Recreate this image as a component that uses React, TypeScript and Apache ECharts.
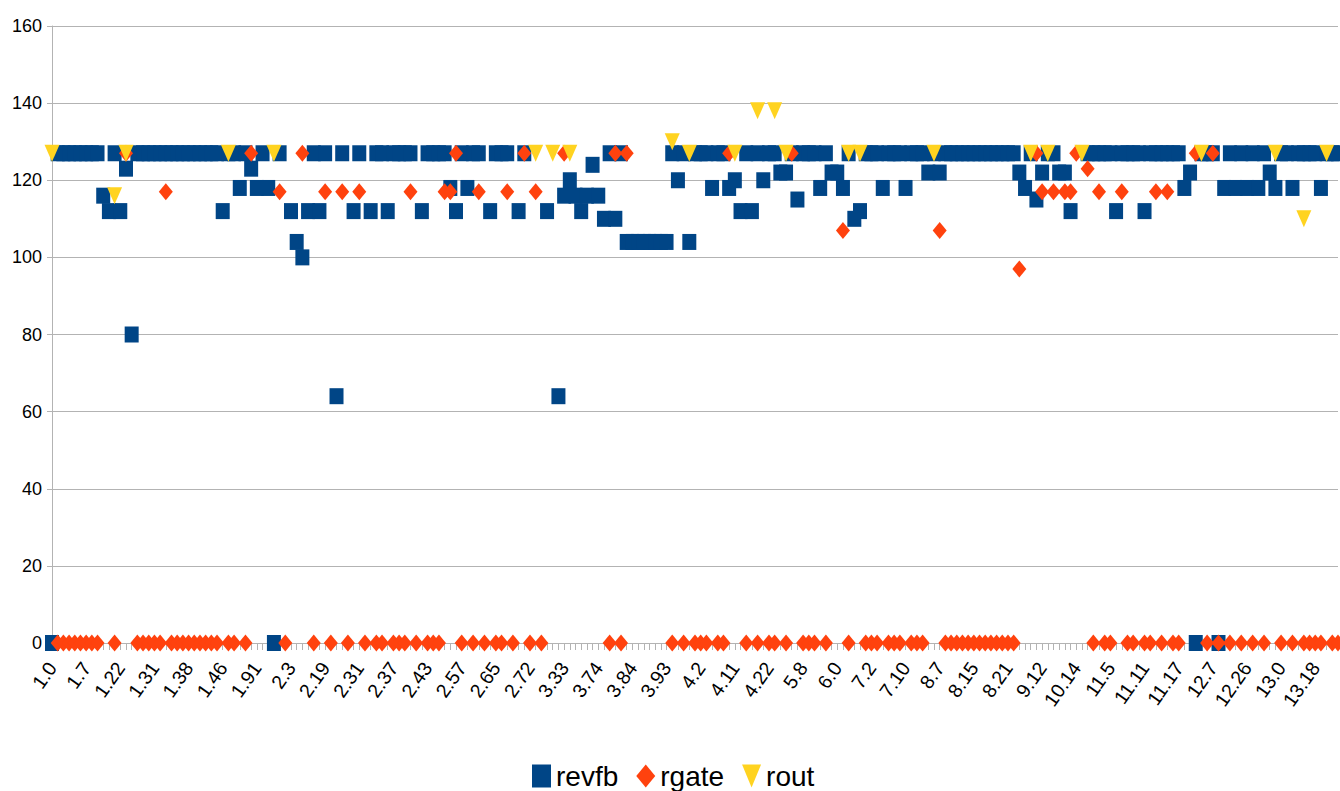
import React, { useEffect, useRef } from "react";
import * as echarts from "echarts";

const _ = null;

const categories = [
  "1.0","1.1","1.2","1.3","1.4","1.5",
  "1.7","1.8","1.10","1.13","1.16","1.19",
  "1.22","1.24","1.25","1.27","1.28","1.30",
  "1.31","1.32","1.33","1.34","1.35","1.36",
  "1.38","1.39","1.40","1.42","1.43","1.45",
  "1.46","1.47","1.48","1.50","1.60","1.80",
  "1.91","1.92","1.93","2.0","2.1","2.2",
  "2.3","2.5","2.8","2.11","2.14","2.17",
  "2.19","2.21","2.23","2.25","2.27","2.29",
  "2.31","2.32","2.33","2.34","2.35","2.36",
  "2.37","2.38","2.39","2.40","2.41","2.42",
  "2.43","2.45","2.47","2.50","2.53","2.55",
  "2.57","2.59","2.60","2.61","2.62","2.63",
  "2.65","2.66","2.67","2.68","2.69","2.70",
  "2.72","2.73","2.75","3.0","3.10","3.20",
  "3.33","3.40","3.50","3.60","3.65","3.70",
  "3.74","3.76","3.78","3.80","3.81","3.82",
  "3.84","3.85","3.86","3.88","3.90","3.91",
  "3.93","3.95","3.97","3.99","4.0","4.1",
  "4.2","4.4","4.5","4.6","4.8","4.9",
  "4.11","4.13","4.15","4.17","4.19","4.20",
  "4.22","4.24","5.0","5.2","5.4","5.6",
  "5.8","5.10","5.12","5.14","5.16","5.18",
  "6.0","6.2","6.4","6.6","7.0","7.1",
  "7.2","7.3","7.4","7.5","7.7","7.8",
  "7.10","7.12","7.14","8.0","8.3","8.5",
  "8.7","8.8","8.10","8.11","8.12","8.14",
  "8.15","8.16","8.17","8.18","8.19","8.20",
  "8.21","8.23","9.0","9.3","9.6","9.9",
  "9.12","9.15","9.18","10.0","10.5","10.10",
  "10.14","10.16","11.0","11.1","11.2","11.4",
  "11.5","11.6","11.7","11.8","11.9","11.10",
  "11.11","11.12","11.13","11.14","11.15","11.16",
  "11.17","11.18","12.0","12.2","12.4","12.6",
  "12.7","12.9","12.12","12.15","12.18","12.22",
  "12.26","12.28","12.30","12.32","12.34","12.36",
  "13.0","13.2","13.5","13.8","13.11","13.14",
  "13.18","13.19","13.20","13.21","13.22",
];

const revfb = [
  0,127,127,127,127,127,127,127,127,116,
  112,127,112,123,80,127,127,127,127,127,
  127,127,127,127,127,127,127,127,127,127,
  112,127,127,118,127,123,118,127,118,0,
  127,_,112,104,100,112,127,112,127,_,
  64,127,_,112,127,_,112,127,127,112,
  127,127,127,127,_,112,127,127,127,127,
  118,112,127,118,127,127,_,112,127,127,
  127,_,112,127,_,_,_,112,_,64,
  116,120,116,112,116,124,116,110,127,110,
  127,104,104,104,104,104,104,104,104,127,
  120,127,104,127,127,127,118,127,127,118,
  120,112,127,112,127,120,127,127,122,122,
  127,115,127,127,127,118,127,122,122,118,
  127,110,112,127,127,127,118,127,127,127,
  118,127,127,127,122,127,122,127,127,127,
  127,127,127,127,127,127,127,127,127,127,
  122,118,127,115,122,127,127,122,122,112,
  _,_,127,127,127,127,127,112,127,127,
  127,127,112,127,127,127,127,127,127,118,
  122,0,127,127,127,0,118,127,118,127,
  118,127,118,127,122,118,127,127,118,127,
  127,127,127,118,127,127,127,
];

const rgate = [
  _,0,0,0,0,0,0,0,0,_,
  _,0,_,127,_,0,0,0,0,0,
  117,0,0,0,0,0,0,0,0,0,
  _,0,0,_,0,127,_,_,_,_,
  117,0,_,_,127,_,0,_,117,0,
  _,117,0,_,117,0,_,0,0,_,
  0,0,0,117,0,_,0,0,0,117,
  117,127,0,_,0,117,0,_,0,0,
  117,0,_,127,0,117,0,_,_,_,
  127,_,_,_,_,_,_,_,0,127,
  0,127,_,_,_,_,_,_,_,0,
  _,0,_,0,0,0,_,0,0,127,
  _,_,0,_,0,_,0,0,_,0,
  127,_,0,0,0,_,0,_,_,107,
  0,_,_,0,0,0,_,0,0,0,
  _,0,0,0,_,_,107,0,0,0,
  0,0,0,0,0,0,0,0,0,0,
  97,_,_,127,117,_,117,_,117,117,
  127,_,123,0,117,0,0,_,117,0,
  0,_,0,0,117,0,117,0,0,_,
  _,127,_,0,127,0,_,0,_,0,
  _,0,_,0,_,_,0,_,0,_,
  0,0,0,0,_,0,0,
];

const rout = [
  127,_,_,_,_,_,_,_,_,_,
  _,116,_,127,_,_,_,_,_,_,
  _,_,_,_,_,_,_,_,_,_,
  _,127,_,_,_,_,_,_,_,127,
  _,_,_,_,_,_,_,_,_,_,
  _,_,_,_,_,_,_,_,_,_,
  _,_,_,_,_,_,_,_,_,_,
  _,_,_,_,_,_,_,_,_,_,
  _,_,_,_,_,127,_,_,127,_,
  _,127,_,_,_,_,_,_,_,_,
  _,_,_,_,_,_,_,_,_,130,
  _,_,127,_,_,_,_,_,_,_,
  127,_,_,_,138,_,_,138,_,127,
  _,_,_,_,_,_,_,_,_,_,
  127,_,127,_,_,_,_,_,_,_,
  _,_,_,_,_,127,_,_,_,_,
  _,_,_,_,_,_,_,_,_,_,
  _,_,127,_,_,127,_,_,_,_,
  _,127,_,_,_,_,_,_,_,_,
  _,_,_,_,_,_,_,_,_,_,
  _,_,127,_,_,_,_,_,_,_,
  _,_,_,_,_,127,_,_,_,_,
  110,_,_,_,127,_,_,
];

const yMin = 0;
const yMax = 160;
const yStep = 20;

const FONT = "Liberation Sans";
const GRID_COLOR = "#b3b3b3";

function toPoints(arr: (number | null)[]) {
  const out: [number, number][] = [];
  arr.forEach((v, i) => {
    if (v !== null && v !== undefined) out.push([i, v]);
  });
  return out;
}

export default function App() {
  const ref = useRef<HTMLDivElement>(null);
  useEffect(() => {
    if (!ref.current) return;
    const chart = echarts.init(ref.current, null, { renderer: "svg" });
    chart.setOption({
      animation: false,
      backgroundColor: "#ffffff",
      grid: { left: 52, right: 2, top: 26, bottom: 148, containLabel: false },
      legend: {
        left: 527,
        top: 757,
        itemWidth: 19,
        itemHeight: 23,
        itemGap: 18,
        textStyle: { fontFamily: FONT, fontSize: 28, color: "#000" },
        data: [
          { name: "revfb", icon: "rect" },
          { name: "rgate", icon: "diamond" },
          { name: "rout", icon: "path://M0,0L10,0L5,12Z" },
        ],
      },
      xAxis: {
        type: "category",
        data: categories,
        boundaryGap: false,
        axisLine: { lineStyle: { color: GRID_COLOR, width: 1 } },
        axisTick: { show: true, interval: 0, length: 7, lineStyle: { color: GRID_COLOR } },
        axisLabel: {
          interval: 5,
          rotate: 55,
          fontFamily: FONT,
          fontSize: 19.5,
          color: "#000",
          margin: 21,
        },
        splitLine: { show: false },
      },
      yAxis: {
        type: "value",
        min: yMin,
        max: yMax,
        interval: yStep,
        axisLine: { show: true, lineStyle: { color: GRID_COLOR } },
        axisTick: { show: true, length: 5, lineStyle: { color: GRID_COLOR } },
        axisLabel: { fontFamily: FONT, fontSize: 18, color: "#000", margin: 10 },
        splitLine: { lineStyle: { color: GRID_COLOR, width: 1 } },
      },
      series: [
        {
          name: "revfb",
          type: "scatter",
          symbol: "rect",
          symbolSize: [14, 16],
          itemStyle: { color: "#004586", opacity: 1 },
          data: toPoints(revfb),
        },
        {
          name: "rgate",
          type: "scatter",
          symbol: "diamond",
          symbolSize: [14, 17],
          itemStyle: { color: "#ff420e", opacity: 1 },
          data: toPoints(rgate),
        },
        {
          name: "rout",
          type: "scatter",
          symbol: "triangle",
          symbolRotate: 180,
          symbolSize: [15, 17],
          itemStyle: { color: "#ffd320", opacity: 1 },
          data: toPoints(rout),
        },
      ],
    });
    return () => chart.dispose();
  }, []);
  return (
    <div
      ref={ref}
      style={{ position: "fixed", left: 0, top: 0, width: 1340, height: 791 }}
    />
  );
}
